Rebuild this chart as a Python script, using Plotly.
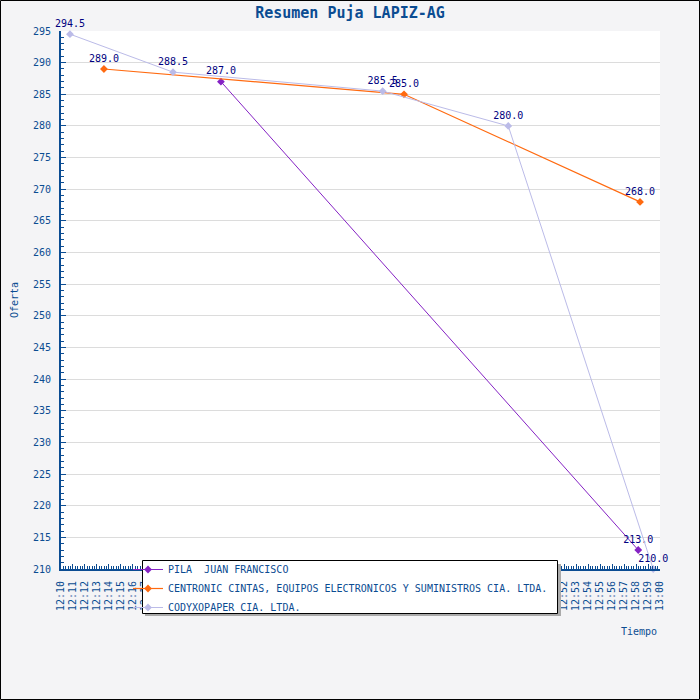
import plotly.graph_objects as go

# datos de la puja (hora de la oferta y valor)
pila_t = ['2012-01-01 12:23:21', '2012-01-01 12:58:11']
pila_v = [287.0, 213.0]

centronic_t = ['2012-01-01 12:13:35', '2012-01-01 12:38:38', '2012-01-01 12:58:20']
centronic_v = [289.0, 285.0, 268.0]

cody_t = ['2012-01-01 12:10:45', '2012-01-01 12:19:21', '2012-01-01 12:36:51',
          '2012-01-01 12:47:20', '2012-01-01 12:59:26']
cody_v = [294.5, 288.5, 285.5, 280.0, 210.0]

nombres = ['PILA  JUAN FRANCISCO',
           'CENTRONIC CINTAS, EQUIPOS ELECTRONICOS Y SUMINISTROS CIA. LTDA.',
           'CODYXOPAPER CIA. LTDA.']
colores = ['#8522C4', '#FF6A10', '#BBBBE8']

fuente = 'DejaVu Sans Mono'
azul = '#0B4C92'

# geometria en pixeles del area de trazado
L, R, T, B = 61, 660, 31, 569
W, H = R - L, B - T


def px(x):
    return (x - L) / W


def py(y):
    return (B - y) / H


fig = go.Figure()

series = [(pila_t, pila_v), (centronic_t, centronic_v), (cody_t, cody_v)]
for i, (t, v) in enumerate(series):
    fig.add_trace(go.Scatter(
        x=t, y=v, name=nombres[i],
        mode='lines+markers+text',
        text=['%.1f' % val for val in v],
        textposition='top center',
        textfont=dict(family=fuente, size=10, color='#000080'),
        line=dict(color=colores[i], width=1.2 if i == 1 else 1),
        marker=dict(symbol='diamond', size=6, color=colores[i]),
        cliponaxis=False
    ))

shapes = [
    # sombra y caja de la leyenda
    dict(type='rect', xref='paper', yref='paper', layer='above',
         x0=px(145), x1=px(561), y0=py(616), y1=py(564),
         fillcolor='#AAAAAA', line=dict(width=0)),
    dict(type='rect', xref='paper', yref='paper', layer='above',
         x0=px(142.5), x1=px(557.5), y0=py(613.5), y1=py(560.5),
         fillcolor='white', line=dict(color='black', width=1)),
    # marco exterior
    dict(type='rect', xref='paper', yref='paper', layer='above',
         x0=px(0.5), x1=px(699.5), y0=py(699.5), y1=py(0.5),
         line=dict(color='black', width=1)),
]

fig.update_layout(
    width=700, height=700,
    margin=dict(l=L, r=700 - R, t=T, b=700 - B),
    paper_bgcolor='#F4F4F6',
    plot_bgcolor='white',
    font=dict(family=fuente, size=10, color=azul),
    title=dict(text='<b>Resumen Puja LAPIZ-AG</b>', x=0.5, xanchor='center',
               y=1 - 13 / 700, yanchor='middle',
               font=dict(family=fuente, size=15, color=azul)),
    showlegend=True,
    legend=dict(x=px(128), y=py(555), xanchor='left', yanchor='top',
                bgcolor='rgba(0,0,0,0)', borderwidth=0, itemwidth=30,
                font=dict(family=fuente, size=10, color=azul)),
    shapes=shapes,
    annotations=[
        dict(text='Oferta', xref='paper', yref='paper', x=px(14), y=0.5,
             xanchor='center', yanchor='middle',
             textangle=-90, showarrow=False, font=dict(size=10, color=azul)),
        dict(text='Tiempo', xref='paper', yref='paper', x=px(659), y=py(631),
             xanchor='right', yanchor='middle', showarrow=False,
             font=dict(size=10, color=azul)),
    ],
    xaxis=dict(
        type='date',
        range=['2012-01-01 12:10:00', '2012-01-01 13:00:00'],
        dtick=60000, tick0='2012-01-01 12:10:00', tickformat='%H:%M',
        tickangle=-90, ticks='inside', ticklen=5, tickcolor=azul,
        showline=True, linecolor=azul, linewidth=2, showgrid=False,
        zeroline=False, ticklabelstandoff=6,
        minor=dict(dtick=12000, ticks='inside', ticklen=3, tickcolor=azul,
                   showgrid=False),
        tickfont=dict(family=fuente, size=10, color=azul)
    ),
    yaxis=dict(
        range=[210, 295], dtick=5, tick0=210,
        ticks='inside', ticklen=5, tickcolor=azul,
        showline=True, linecolor=azul, linewidth=2,
        showgrid=True, gridcolor='#DCDCDC', gridwidth=1, zeroline=False,
        ticklabelstandoff=6,
        minor=dict(dtick=1, ticks='inside', ticklen=3, tickcolor=azul,
                   showgrid=False),
        tickfont=dict(family=fuente, size=10, color=azul)
    )
)

# quitar el margen por defecto del body para que la figura quede en (0, 0)
fig.write_html("out.html", config={'displayModeBar': False},
               post_script="document.body.style.margin='0';")
